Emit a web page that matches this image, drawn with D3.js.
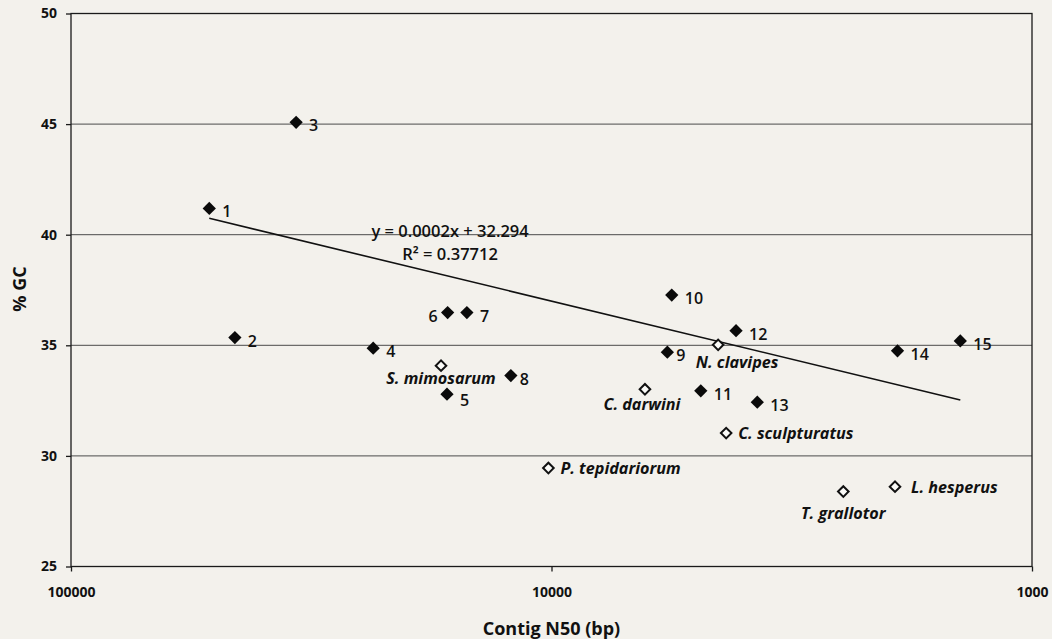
<!DOCTYPE html>
<html>
<head>
<meta charset="utf-8">
<script src="https://cdn.jsdelivr.net/npm/d3@7"></script>
<style>
  html, body { margin: 0; padding: 0; background: #f3f1ec; }
  svg { display: block; }
  text { font-family: "Open Sans", "Liberation Sans", sans-serif; fill: #111; }
</style>
</head>
<body>
<div id="chart"></div>
<script>
// numbered assemblies (filled diamonds)
var numLabels = ["1", "2", "3", "4", "5", "6", "7", "8", "9", "10", "11", "12", "13", "14", "15"];
var numN50 = [51550, 45600, 34000, 23500, 16500, 16450, 15000, 12150, 5740, 5620, 4890, 4130, 3730, 1905, 1410];
var numGC = [41.19, 35.35, 45.08, 34.87, 32.79, 36.48, 36.48, 33.63, 34.69, 37.27, 32.94, 35.66, 32.43, 34.75, 35.2];

// named species (open diamonds)
var spLabels = ["S. mimosarum", "C. darwini", "N. clavipes", "C. sculpturatus", "P. tepidariorum", "T. grallotor", "L. hesperus"];
var spN50 = [16980, 6390, 4500, 4330, 10150, 2470, 1928];
var spGC = [34.08, 33.01, 35.02, 31.03, 29.45, 28.39, 28.61];

// linear trendline (end points) and its legend
var trendN50 = [51550, 1410];
var trendGC = [40.74, 32.53];
var trendText = ["y = 0.0002x + 32.294", "R\u00b2 = 0.37712"];

var xTicks = [100000, 10000, 1000];
var yTicks = [25, 30, 35, 40, 45, 50];

var width = 1052, height = 639;
var margin = {top: 13.5, right: 20, bottom: 72.5, left: 71};
var w = width - margin.left - margin.right,
    h = height - margin.top - margin.bottom;

var svg = d3.select("#chart").append("svg")
    .attr("width", width)
    .attr("height", height);

var g = svg.append("g")
    .attr("transform", "translate(" + margin.left + "," + margin.top + ")");

// reversed log axis: big N50 on the left
var x = d3.scaleLog().domain([100000, 1000]).range([0, w]);
var y = d3.scaleLinear().domain([25, 50]).range([h, 0]);

// gridlines
g.append("g")
    .selectAll("line")
    .data(yTicks.slice(1, -1))
  .enter().append("line")
    .attr("x1", 0)
    .attr("x2", w)
    .attr("y1", function(d) { return y(d); })
    .attr("y2", function(d) { return y(d); })
    .attr("stroke", "#4a4a4a")
    .attr("stroke-width", 1);

// plot frame
g.append("rect")
    .attr("width", w)
    .attr("height", h)
    .attr("fill", "none")
    .attr("stroke", "#1a1a1a")
    .attr("stroke-width", 1.3);

var yAxis = g.append("g")
    .call(d3.axisLeft(y).tickValues(yTicks).tickSize(5).tickPadding(9).tickFormat(d3.format("d")));
var xAxis = g.append("g")
    .attr("transform", "translate(0," + h + ")")
    .call(d3.axisBottom(x).tickValues(xTicks).tickSize(5).tickPadding(16).tickFormat(d3.format("d")));

[xAxis, yAxis].forEach(function(ax) {
  ax.select(".domain").remove();
  ax.selectAll("line").attr("stroke", "#1a1a1a").attr("stroke-width", 1.3);
  ax.selectAll("text")
    .attr("font-family", "'Open Sans', sans-serif")
    .attr("font-size", 14)
    .attr("font-weight", "bold")
    .attr("fill", "#111");
});

// axis titles
g.append("text")
    .attr("x", w / 2)
    .attr("y", h + 61)
    .attr("text-anchor", "middle")
    .attr("dominant-baseline", "central")
    .attr("font-size", 18)
    .attr("font-weight", "bold")
    .text("Contig N50 (bp)");

g.append("text")
    .attr("transform", "translate(" + (19 - margin.left) + "," + (289 - margin.top) + ") rotate(-90)")
    .attr("text-anchor", "middle")
    .attr("dominant-baseline", "central")
    .attr("font-size", 18)
    .attr("font-weight", "bold")
    .text("% GC");

// trendline
var trend = trendN50.map(function(v, i) { return {n50: v, gc: trendGC[i]}; });
g.append("path")
    .datum(trend)
    .attr("fill", "none")
    .attr("stroke", "#111")
    .attr("stroke-width", 1.6)
    .attr("d", d3.line()
      .x(function(d) { return x(d.n50); })
      .y(function(d) { return y(d.gc); }));

g.selectAll(".eq")
    .data(trendText)
  .enter().append("text")
    .attr("class", "eq")
    .attr("x", x(16260))
    .attr("y", function(d, i) { return y(40.21) + i * 23; })
    .attr("text-anchor", "middle")
    .attr("dominant-baseline", "central")
    .attr("font-size", 16.5)
    .attr("font-weight", 600)
    .text(function(d) { return d; });

var diamond = d3.symbol().type(d3.symbolSquare);

// numbered points
var nums = numLabels.map(function(l, i) { return {label: l, n50: numN50[i], gc: numGC[i]}; });
var numNode = g.append("g").selectAll("g")
    .data(nums)
  .enter().append("g")
    .attr("transform", function(d) { return "translate(" + x(d.n50) + "," + y(d.gc) + ")"; });

numNode.append("path")
    .attr("d", diamond.size(88)())
    .attr("transform", "rotate(45)")
    .attr("fill", "#0a0a0a");

numNode.append("text")
    .attr("x", function(d) { return d.label === "6" ? -10 : (d.label === "8" || d.label === "9" ? 9 : 13); })
    .attr("y", function(d) { return d.label === "5" ? 6 : 3; })
    .attr("text-anchor", function(d) { return d.label === "6" ? "end" : "start"; })
    .attr("dominant-baseline", "central")
    .attr("font-size", 16)
    .attr("font-weight", 600)
    .text(function(d) { return d.label; });

// species points, label placement
var spPlace = {
  "S. mimosarum":    {dx: 0,  dy: 12, anchor: "middle"},
  "C. darwini":      {dx: -3, dy: 15, anchor: "middle"},
  "N. clavipes":     {dx: 19, dy: 17, anchor: "middle"},
  "C. sculpturatus": {dx: 12, dy: 0,  anchor: "start"},
  "P. tepidariorum": {dx: 12, dy: 0,  anchor: "start"},
  "T. grallotor":    {dx: 0,  dy: 21, anchor: "middle"},
  "L. hesperus":     {dx: 16, dy: 0,  anchor: "start"}
};

var sps = spLabels.map(function(l, i) { return {label: l, n50: spN50[i], gc: spGC[i]}; });
var spNode = g.append("g").selectAll("g")
    .data(sps)
  .enter().append("g")
    .attr("transform", function(d) { return "translate(" + x(d.n50) + "," + y(d.gc) + ")"; });

spNode.append("path")
    .attr("d", diamond.size(56)())
    .attr("transform", "rotate(45)")
    .attr("fill", "#fbfbf8")
    .attr("stroke", "#111")
    .attr("stroke-width", 2);

spNode.append("text")
    .attr("x", function(d) { return spPlace[d.label].dx; })
    .attr("y", function(d) { return spPlace[d.label].dy; })
    .attr("text-anchor", function(d) { return spPlace[d.label].anchor; })
    .attr("dominant-baseline", "central")
    .attr("font-size", 16.2)
    .attr("font-weight", "bold")
    .attr("font-style", "italic")
    .text(function(d) { return d.label; });
</script>
</body>
</html>
